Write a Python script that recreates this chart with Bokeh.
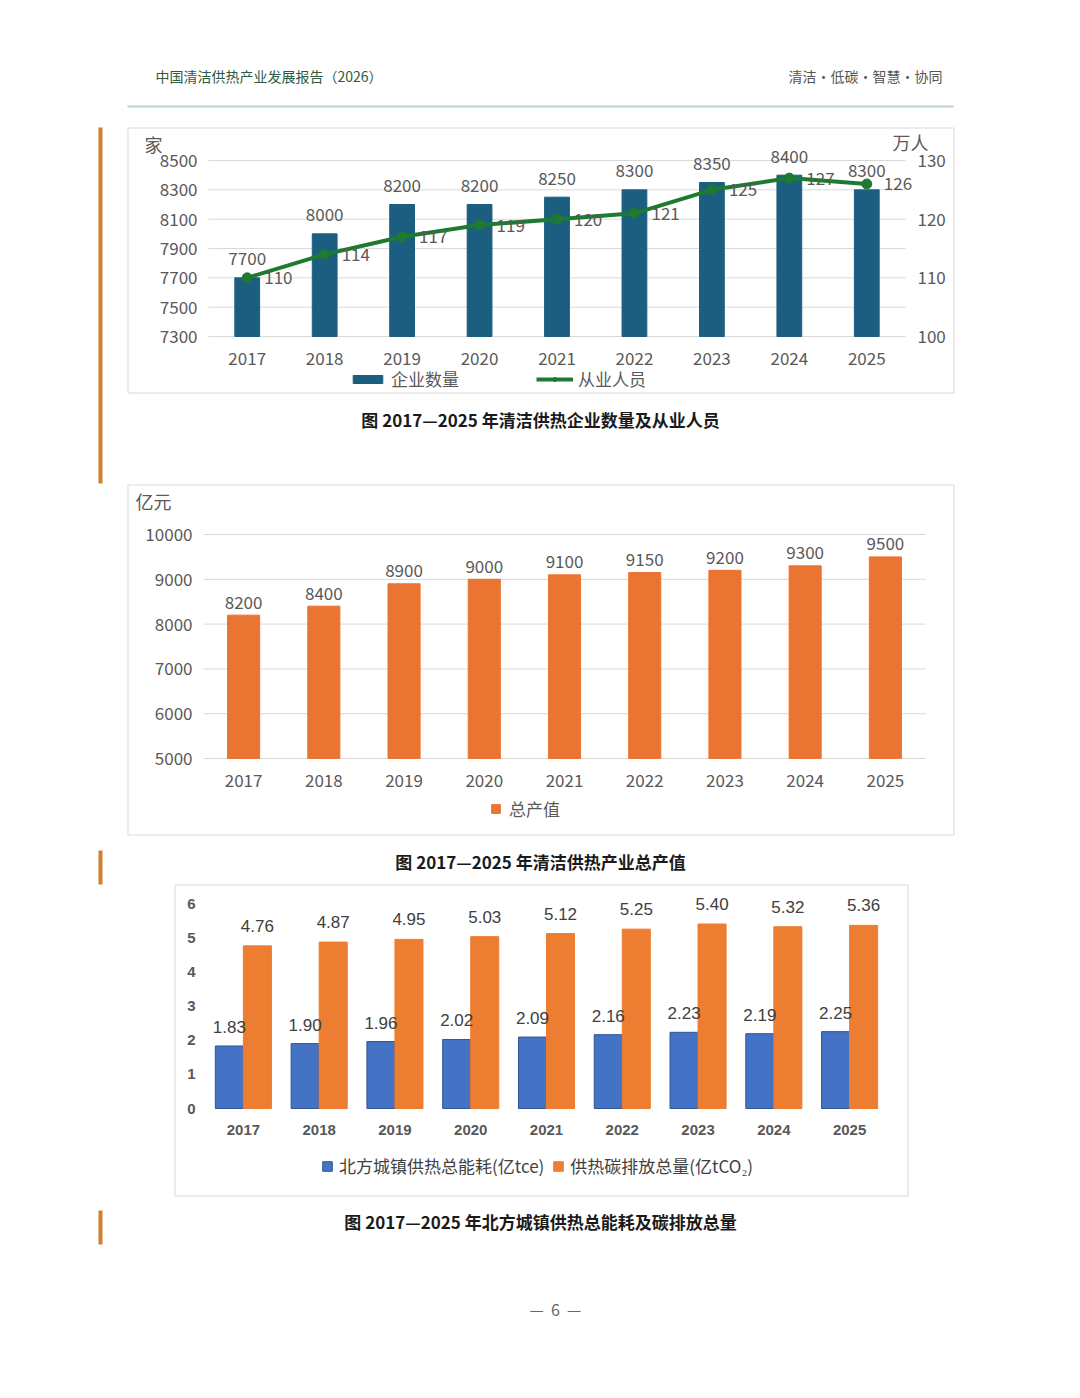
from bokeh.plotting import figure
from bokeh.models import (ColumnDataSource, Range1d, FactorRange, Legend, LegendItem,
                          LinearScale, CategoricalScale, CoordinateMapping)
from bokeh.core.properties import value
from bokeh.transform import dodge
from bokeh.embed import file_html
from bokeh.resources import INLINE

# data
years = ["2017", "2018", "2019", "2020", "2021", "2022", "2023", "2024", "2025"]
enterprises = [7700, 8000, 8200, 8200, 8250, 8300, 8350, 8400, 8300]   # 家
employees = [110, 114, 117, 119, 120, 121, 125, 127, 126]              # 万人
output_value = [8200, 8400, 8900, 9000, 9100, 9150, 9200, 9300, 9500]  # 亿元
energy = [1.83, 1.90, 1.96, 2.02, 2.09, 2.16, 2.23, 2.19, 2.25]        # 亿tce
carbon = [4.76, 4.87, 4.95, 5.03, 5.12, 5.25, 5.40, 5.32, 5.36]        # 亿tCO2

ticks_ent = [7300, 7500, 7700, 7900, 8100, 8300, 8500]
ticks_emp = [100, 110, 120, 130]
ticks_out = [5000, 6000, 7000, 8000, 9000, 10000]
ticks_energy = [0, 1, 2, 3, 4, 5, 6]

header_left = "中国清洁供热产业发展报告（2026）"
header_right = "清洁·低碳·智慧·协同"
captions = ["图 2017—2025 年清洁供热企业数量及从业人员",
            "图 2017—2025 年清洁供热产业总产值",
            "图 2017—2025 年北方城镇供热总能耗及碳排放总量"]
page_no = "—\u00a0\u00a06\u00a0\u00a0—"

W, H = 1080, 1398
CJK = "Noto Sans CJK SC"
ARIAL = "Liberation Sans"
GREY = "#595959"
DARK = "#404040"
GRID = "#d9d9d9"
ORANGE_MARK = "#cf7f2e"

# one page-sized canvas, y measured downwards in pixels
p = figure(width=W, height=H, x_range=Range1d(0, W), y_range=Range1d(H, 0),
           output_backend="svg", toolbar_location=None, tools="", min_border=0,
           x_axis_location=None, y_axis_location=None)
p.grid.visible = False
p.outline_line_color = None


class Panel:
    """Glyph calls on p, mapped from a chart's own ranges into its plot area."""

    def __init__(self, frame, x_src, y_src):
        l, r, t, b = frame
        xs = CategoricalScale() if isinstance(x_src, FactorRange) else LinearScale()
        self.cm = CoordinateMapping(x_source=x_src, y_source=y_src,
                                    x_scale=xs, y_scale=LinearScale(),
                                    x_target=Range1d(l, r), y_target=Range1d(b, t))

    def __getattr__(self, name):
        method = getattr(p, name)

        def call(*args, **kw):
            r = method(*args, **kw)
            r.coordinates = self.cm
            return r
        return call


def txt(g, x, y, text, size, color, align="center", font=CJK, bold=False, **kw):
    return g.text(x=x, y=y, text=text, text_font=value(font), text_font_size=f"{size}px",
                  text_color=color, text_align=align, text_baseline="middle",
                  text_font_style="bold" if bold else "normal", **kw)


def y_axis(g, ticks, side, size=17, offset=11, font=CJK, bold=False, grid=True):
    if grid:
        g.segment(x0=0, x1=1, y0=ticks, y1=ticks, line_color=GRID, line_width=1)
    labels = [str(t) for t in ticks]
    if side == "left":
        txt(g, 0, ticks, labels, size, GREY, "right", font, bold, x_offset=-offset)
    else:
        txt(g, 1, ticks, labels, size, GREY, "left", font, bold, x_offset=offset)


def legend(items, left, mid_y, gw, gh, standoff, spacing, color=GREY):
    p.add_layout(Legend(items=items, location=(left, H - mid_y - 10), orientation="horizontal",
                        glyph_width=gw, glyph_height=gh, label_standoff=standoff,
                        spacing=spacing, padding=0, margin=0, border_line_color=None,
                        background_fill_alpha=0, label_text_font=CJK,
                        label_text_font_size="17px", label_text_color=color,
                        label_height=20))


# ---------- page furniture ----------
txt(p, 155, 75, [header_left], 14, "#2e5a40", "left")
txt(p, 942, 75, [header_right], 14, "#555555", "right")
p.quad(left=127, right=953, top=105, bottom=107, fill_color="#b9d2cb", line_color=None)
p.quad(left=[127.5, 127.5, 174.5], right=[953.5, 953.5, 907.5],
       top=[127.5, 484.5, 884.5], bottom=[392.5, 834.5, 1195.5],
       fill_color=None, line_color=GRID, line_width=1)
p.quad(left=98, right=102, top=[127, 850, 1210], bottom=[483, 884, 1244],
       fill_color=ORANGE_MARK, line_color=None)
txt(p, [540, 540, 540], [419, 861, 1221], captions, 17, "#1a1a1a", bold=True)
txt(p, 555, 1308, [page_no], 16, "#666666")

# ---------- chart 1: enterprises and employees ----------
F1 = (208, 905, 160, 336)
x1 = FactorRange(*years)
c1 = Panel(F1, x1, Range1d(7300, 8500))
c1r = Panel(F1, x1, Range1d(100, 130))
g1 = Panel(F1, Range1d(0, 1), Range1d(7300, 8500))
g1r = Panel(F1, Range1d(0, 1), Range1d(100, 130))
y_axis(g1, ticks_ent, "left")
y_axis(g1r, ticks_emp, "right", offset=12, grid=False)
txt(c1, years, 7300, years, 17, GREY, y_offset=22)
txt(p, [153, 910], [143, 141], ["家", "万人"], 18, GREY)

src1 = ColumnDataSource(dict(year=years, ent=enterprises, emp=employees,
                             ent_txt=[str(v) for v in enterprises],
                             emp_txt=[str(v) for v in employees]))
bars1 = c1.vbar(x="year", top="ent", bottom=7300, width=0.32, source=src1,
                fill_color="#1b5e80", line_color="#1b5e80")
line1 = c1r.line(x="year", y="emp", source=src1, line_color="#1e7a31", line_width=4)
pts1 = c1r.scatter(x="year", y="emp", source=src1, size=10,
                   fill_color="#1e7a31", line_color="#1e7a31")
txt(c1, "year", "ent", "ent_txt", 17, GREY, source=src1, y_offset=-19)
txt(c1r, "year", "emp", "emp_txt", 17, GREY, "left", source=src1, x_offset=17)
legend([LegendItem(label="企业数量", renderers=[bars1]),
        LegendItem(label="从业人员", renderers=[line1, pts1])],
       349, 381, 37, 10, 5, 77)

# ---------- chart 2: total output value ----------
F2 = (203, 925, 534, 758)
c2 = Panel(F2, FactorRange(*years), Range1d(5000, 10000))
g2 = Panel(F2, Range1d(0, 1), Range1d(5000, 10000))
y_axis(g2, ticks_out, "left")
txt(c2, years, 5000, years, 17, GREY, y_offset=22)
txt(p, 153, 500, ["亿元"], 18, GREY)

src2 = ColumnDataSource(dict(year=years, val=output_value,
                             val_txt=[str(v) for v in output_value]))
bars2 = c2.vbar(x="year", top="val", bottom=5000, width=0.4, source=src2,
                fill_color="#ea7431", line_color="#ea7431")
txt(c2, "year", "val", "val_txt", 17, GREY, source=src2, y_offset=-13)
legend([LegendItem(label="总产值", renderers=[bars2])], 490, 811, 11, 11, 8, 0)

# ---------- chart 3: energy use and carbon emissions ----------
F3 = (205, 887, 903, 1108)
x3 = FactorRange(*years)
c3 = Panel(F3, x3, Range1d(0, 6))
g3 = Panel(F3, Range1d(0, 1), Range1d(0, 6))
y_axis(g3, ticks_energy, "left", size=15, offset=10, font=ARIAL, bold=True, grid=False)
txt(c3, years, 0, years, 15, GREY, font=ARIAL, bold=True, y_offset=21)

src3 = ColumnDataSource(dict(year=years, energy=energy, carbon=carbon,
                             e_txt=[f"{v:.2f}" for v in energy],
                             c_txt=[f"{v:.2f}" for v in carbon]))
b_energy = c3.vbar(x=dodge("year", -0.185, range=x3), top="energy", width=0.37,
                   source=src3, fill_color="#4472c4", line_color="#2f5597", line_width=1)
b_carbon = c3.vbar(x=dodge("year", 0.185, range=x3), top="carbon", width=0.37,
                   source=src3, fill_color="#ed7d31", line_color="#ed7d31")
txt(c3, dodge("year", -0.185, range=x3), "energy", "e_txt", 17, DARK, font=ARIAL,
    source=src3, y_offset=-19)
txt(c3, dodge("year", 0.185, range=x3), "carbon", "c_txt", 17, DARK, font=ARIAL,
    source=src3, y_offset=-20)
legend([LegendItem(label="北方城镇供热总能耗(亿tce)", renderers=[b_energy]),
        LegendItem(label="供热碳排放总量(亿tCO₂)", renderers=[b_carbon])],
       321, 1168, 12, 12, 6, 8, color=DARK)

open("out.html", "w").write(file_html(p, INLINE))
